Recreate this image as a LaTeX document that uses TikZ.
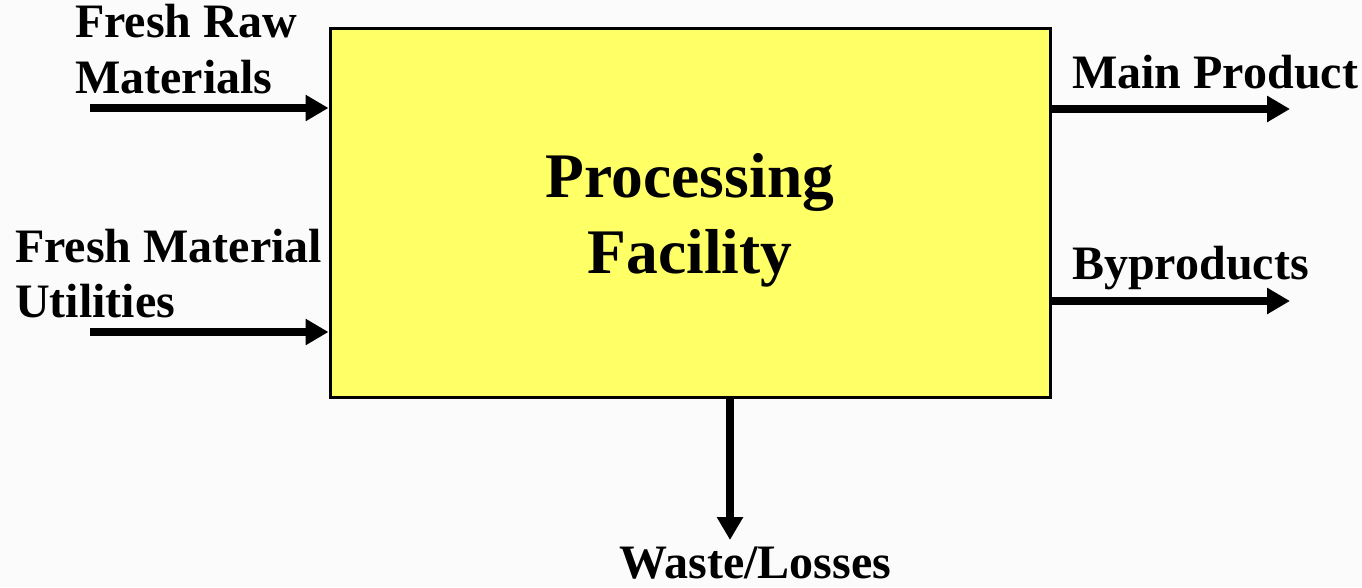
\documentclass[tikz,border=0pt]{standalone}
\usepackage{fontspec}
\setmainfont{Liberation Serif}
\usetikzlibrary{arrows.meta}
\definecolor{paper}{RGB}{250,251,250}
\definecolor{boxfill}{RGB}{255,255,102}
\tikzset{
  flow/.style={line width=7.5pt, -{Triangle[length=23pt,width=25pt]}},
  lbl/.style={inner sep=0pt, anchor=base west, font=\bfseries\fontsize{48}{57}\selectfont},
  ttl/.style={inner sep=0pt, anchor=base, font=\bfseries\fontsize{63.5}{75}\selectfont},
  facility/.style={draw=black, line width=3pt, fill=boxfill, inner sep=0pt,
    minimum width=720pt, minimum height=369pt}
}
\begin{document}
\begin{tikzpicture}[x=1pt,y=-1pt]
  % canvas
  \fill[paper] (0,0) rectangle (1362,587);
  \useasboundingbox (0,0) rectangle (1362,587);

  % processing block
  \node[facility] (box) at (690,212.5) {};
  \node[ttl] (t1) at (690,197) {Processing};
  \node[ttl] (t2) at (690,273) {Facility};

  % inputs
  \node[lbl] (in1a) at (75,37) {Fresh Raw};
  \node[lbl] (in1b) at (75,93) {Materials};
  \node[lbl] (in2a) at (15,262) {Fresh Material};
  \node[lbl] (in2b) at (15,317) {Utilities};
  \coordinate (s1) at (90,108);
  \coordinate (s2) at (90,332);
  \draw[flow] (s1) -- (s1 -| box.west);
  \draw[flow] (s2) -- (s2 -| box.west);

  % outputs
  \node[lbl] (out1) at (1072,88) {Main Product};
  \node[lbl] (out2) at (1072,279) {Byproducts};
  \coordinate (e1) at (1290,109);
  \coordinate (e2) at (1290,301);
  \draw[flow] (e1 -| box.east) -- (e1);
  \draw[flow] (e2 -| box.east) -- (e2);

  % waste stream
  \node[lbl, anchor=base] (waste) at (755,578) {Waste/Losses};
  \coordinate (w) at (730,540);
  \draw[flow] (w |- box.south) -- (w);
\end{tikzpicture}
\end{document}
